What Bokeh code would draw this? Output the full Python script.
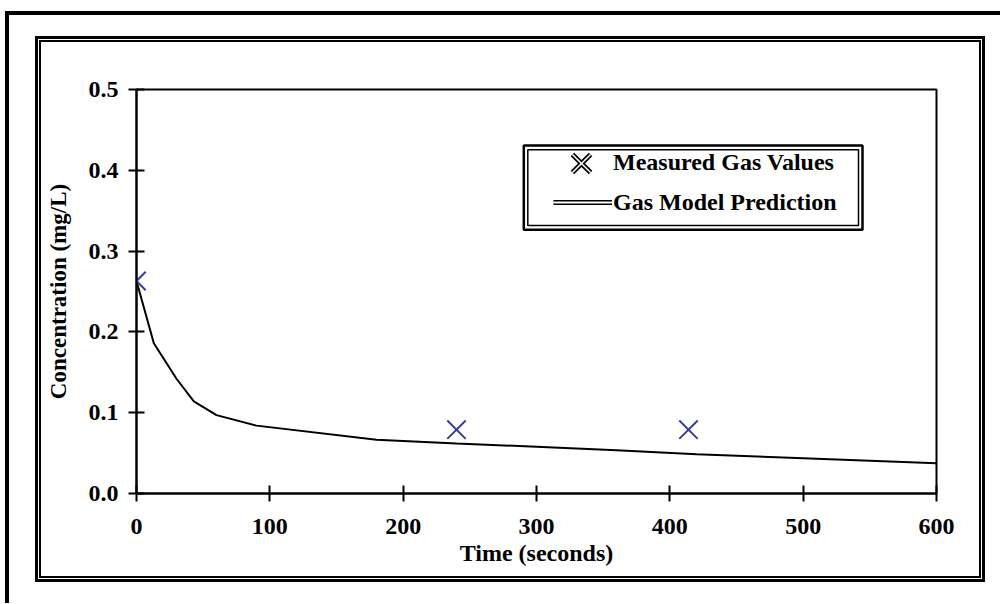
from bokeh.plotting import figure
from bokeh.models import (Range1d, FixedTicker, PrintfTickFormatter, Legend,
                          LegendItem, BoxAnnotation, InlineStyleSheet)
from bokeh.embed import file_html
from bokeh.resources import INLINE

# ---- data ----
measured_t = [0, 240, 414]
measured_c = [0.263, 0.079, 0.079]

model_t = [0, 13, 30, 43, 60, 90, 180, 240, 300, 360, 420, 480, 540, 600]
model_c = [0.263, 0.186, 0.142, 0.114, 0.097, 0.084, 0.0665, 0.062, 0.0578,
           0.0535, 0.0485, 0.0448, 0.041, 0.0375]

x_ticks = [0, 100, 200, 300, 400, 500, 600]
y_ticks = [0.0, 0.1, 0.2, 0.3, 0.4, 0.5]

FONT = "Liberation Serif"

frames_css = InlineStyleSheet(css="""
:host { overflow: hidden; }
:host::before {
  content: ""; position: absolute; left: 35px; top: 36px;
  width: 950px; height: 546px; box-sizing: border-box;
  border: 3px solid black;
  box-shadow: inset 0 0 0 1px white, inset 0 0 0 3px black;
  z-index: 10; pointer-events: none;
}
:host::after {
  content: ""; position: absolute; left: 5px; top: 11px;
  width: 1200px; height: 800px;
  border-left: 4px solid black; border-top: 4px solid black;
  z-index: 10; pointer-events: none;
}
""")

p = figure(width=1000, height=603, output_backend="svg", toolbar_location=None,
           x_range=Range1d(0, 600), y_range=Range1d(0, 0.5),
           min_border_left=136, min_border_right=64,
           min_border_top=89, min_border_bottom=110,
           stylesheets=[frames_css])

p.background_fill_color = "white"
p.border_fill_color = "white"
p.outline_line_color = "black"
p.outline_line_width = 2
p.xgrid.visible = False
p.ygrid.visible = False

p.xaxis.ticker = FixedTicker(ticks=x_ticks)
p.yaxis.ticker = FixedTicker(ticks=y_ticks)
p.yaxis.formatter = PrintfTickFormatter(format="%.1f")

for ax in (p.xaxis, p.yaxis):
    ax.axis_line_width = 2
    ax.axis_line_color = "black"
    ax.major_tick_line_width = 2
    ax.major_tick_line_color = "black"
    ax.major_tick_in = 8
    ax.major_tick_out = 8
    ax.minor_tick_line_color = None
    ax.major_label_text_font = FONT
    ax.major_label_text_font_style = "bold"
    ax.major_label_text_font_size = "24px"
    ax.major_label_text_color = "black"
    ax.axis_label_text_font = FONT
    ax.axis_label_text_font_style = "bold"
    ax.axis_label_text_color = "black"

p.xaxis.axis_label = "Time (seconds)"
p.xaxis.axis_label_text_font_size = "24px"
p.xaxis.major_label_standoff = 17
p.xaxis.axis_label_standoff = 3

p.yaxis.axis_label = "Concentration (mg/L)"
p.yaxis.axis_label_text_font_size = "23px"
p.yaxis.major_label_standoff = 10
p.yaxis.axis_label_standoff = 15

# model curve
p.line(model_t, model_c, line_color="black", line_width=2)
# measured points
p.scatter(measured_t, measured_c, marker="x", size=26,
          line_color="#3c3ca0", line_width=2)

# legend-only glyph renderers (hidden copies of the series)
lx_b = p.scatter(measured_t, measured_c, marker="x", line_color="black",
                 line_width=5, visible=False)
lx_w = p.scatter(measured_t, measured_c, marker="x", line_color="white",
                 line_width=1.5, visible=False)
ll_b = p.line(model_t, model_c, line_color="black", line_width=5, visible=False)
ll_w = p.line(model_t, model_c, line_color="white", line_width=2, visible=False)

common = dict(padding=0, spacing=0, border_line_alpha=0,
              background_fill_alpha=0, margin=0, inactive_fill_alpha=0,
              label_text_font=FONT, label_text_font_style="bold",
              label_text_font_size="24px", label_text_color="black")

legend_pts = Legend(items=[
    LegendItem(label="Measured Gas Values", renderers=[lx_b, lx_w]),
], location=(413, 298.5), glyph_width=64, glyph_height=64, label_standoff=0,
    **common)
legend_line = Legend(items=[
    LegendItem(label="Gas Model Prediction", renderers=[ll_b, ll_w]),
], location=(417, 277.5), glyph_width=59, glyph_height=24, label_standoff=1,
    **common)
p.add_layout(legend_pts)
p.add_layout(legend_line)


def frame_box(left, top, right, bottom, width):
    return BoxAnnotation(left=left, right=right, top=top, bottom=bottom,
                         left_units="canvas", right_units="canvas",
                         top_units="canvas", bottom_units="canvas",
                         fill_alpha=0, fill_color=None,
                         line_color="black", line_width=width, line_alpha=1)


# legend double frame
p.add_layout(frame_box(523.3, 145, 862, 229.3, 2.5))
p.add_layout(frame_box(527.3, 149.3, 858, 225, 1.5))

open("out.html", "w").write(file_html(p, INLINE))
